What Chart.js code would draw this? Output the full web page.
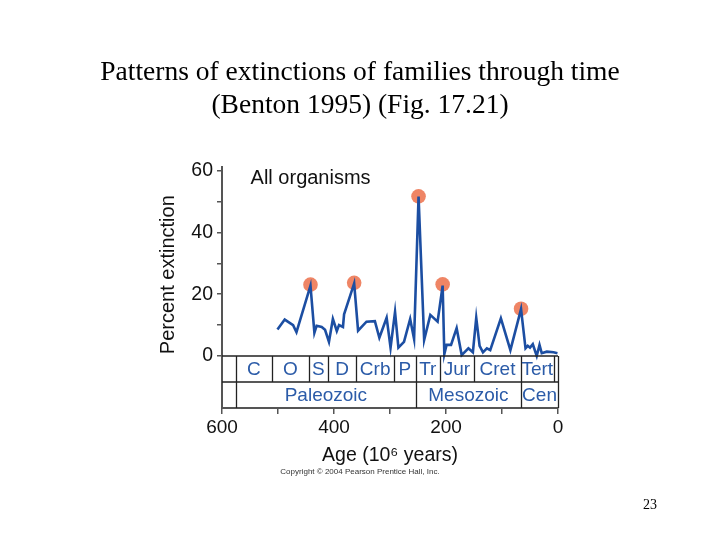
<!DOCTYPE html>
<html>
<head>
<meta charset="utf-8">
<title>Patterns of extinctions of families through time</title>
<script src="https://cdn.jsdelivr.net/npm/chart.js@4.4.1/dist/chart.umd.min.js"></script>
<style>
  html, body { margin: 0; padding: 0; background: #fff; }
  #wrap { position: relative; width: 720px; height: 540px; overflow: hidden; }
  #chart { position: absolute; left: 0; top: 0; }
  .slideTitle {
    position: absolute; left: 0; top: 54px; width: 720px;
    text-align: center; font-family: "Liberation Serif", "Times New Roman", serif;
    font-size: 27.5px; line-height: 33px; color: #000;
  }
  .copyright {
    position: absolute; left: 0; top: 467px; width: 720px; text-align: center;
    font-family: "Liberation Sans", Arial, sans-serif; font-size: 8px; color: #333;
  }
  .pageNum {
    position: absolute; left: 643px; top: 497px;
    font-family: "Liberation Serif", "Times New Roman", serif; font-size: 14px; color: #000;
  }
</style>
</head>
<body>
<div id="wrap">
  <canvas id="chart" width="720" height="540"></canvas>
  <div class="slideTitle">Patterns of extinctions of families through time<br>(Benton 1995) (Fig. 17.21)</div>
  <div class="copyright">Copyright © 2004 Pearson Prentice Hall, Inc.</div>
  <div class="pageNum">23</div>
</div>
<script>
// age in millions of years ago, percent of families going extinct
const ages = [501, 488, 473, 467, 442, 435, 431, 422, 416, 409,
              402, 395, 391, 384, 382, 364, 357, 342, 327, 319,
              306, 299, 291, 285, 275, 264, 257, 249, 239, 228,
              215, 206, 203, 199, 191, 181, 172, 160, 152, 146,
              140, 134, 127, 121, 102, 85, 66, 58, 54, 50,
              45, 38, 33, 29, 20, 8, 1];
const extinction = [8.6, 11.8, 10.0, 7.7, 22.8, 7.5, 9.8, 9.4, 8.5, 4.6,
                    12.0, 8.1, 10.0, 9.4, 13.5, 23.5, 8.2, 11.1, 11.3, 5.9,
                    12.4, 2.7, 14.3, 2.7, 4.6, 12.0, 5.5, 51.6, 5.2, 13.3,
                    11.1, 22.8, 0.6, 3.6, 3.6, 9.0, 0.3, 2.5, 1.2, 12.4,
                    3.3, 1.2, 2.5, 1.9, 12.2, 1.9, 15.2, 2.5, 3.3, 2.7,
                    3.8, 0, 3.6, 0.9, 1.4, 1.2, 0.9];

// the big five mass extinctions (the orange dots)
const massAges = [442, 364, 249, 206, 66];
const massValues = [23.1, 23.7, 51.7, 23.2, 15.3];

// geologic time table under the plot
const periodNames = ["C", "O", "S", "D", "Crb", "P", "Tr", "Jur", "Cret", "Tert"];
const periodBounds = [575, 511, 445, 411, 360, 293, 254, 211, 150, 66, 8, 0];
const eraNames = ["Paleozoic", "Mesozoic", "Cen"];
const eraBounds = [575, 254, 66, 0];

const xTicks = [600, 500, 400, 300, 200, 100, 0];
const yTicks = [0, 10, 20, 30, 40, 50, 60];
const panelLabel = "All organisms";

const FONT = '"Liberation Sans", Arial, sans-serif';
Chart.defaults.font.family = FONT;
Chart.defaults.color = "#111";

const tablePlugin = {
  id: "periodTable",
  afterDatasetsDraw(chart) {
    const ctx = chart.ctx;
    const x = chart.scales.x, y = chart.scales.y;
    const top = y.getPixelForValue(0);
    const bot = y.getPixelForValue(y.min);
    const mid = (top + bot) / 2;
    const left = x.getPixelForValue(600), right = x.getPixelForValue(0);

    ctx.save();
    ctx.strokeStyle = "#222";
    ctx.lineWidth = 1.3;
    ctx.beginPath();
    ctx.moveTo(left, top); ctx.lineTo(right, top);
    ctx.moveTo(left, mid); ctx.lineTo(right, mid);
    periodBounds.forEach((a) => {
      const px = Math.round(x.getPixelForValue(a)) + 0.5;
      ctx.moveTo(px, top); ctx.lineTo(px, mid);
    });
    eraBounds.forEach((a) => {
      const px = Math.round(x.getPixelForValue(a)) + 0.5;
      ctx.moveTo(px, mid); ctx.lineTo(px, bot);
    });
    ctx.stroke();

    ctx.fillStyle = "#2b5ba8";
    ctx.font = "19px " + FONT;
    ctx.textAlign = "center";
    ctx.textBaseline = "middle";
    periodNames.forEach((n, i) => {
      const cx = (x.getPixelForValue(periodBounds[i]) + x.getPixelForValue(periodBounds[i + 1])) / 2;
      ctx.fillText(n, cx, (top + mid) / 2 + 1);
    });
    eraNames.forEach((n, i) => {
      const cx = (x.getPixelForValue(eraBounds[i]) + x.getPixelForValue(eraBounds[i + 1])) / 2;
      ctx.fillText(n, cx, (mid + bot) / 2 + 1);
    });

    ctx.fillStyle = "#111";
    ctx.font = "20px " + FONT;
    ctx.textAlign = "left";
    ctx.fillText(panelLabel, x.getPixelForValue(549), y.getPixelForValue(57.6));
    ctx.restore();
  }
};

const lineData = ages.map((a, i) => ({ x: a, y: extinction[i] }));
const dotData = massAges.map((a, i) => ({ x: a, y: massValues[i] }));

new Chart(document.getElementById("chart").getContext("2d"), {
  type: "line",
  data: {
    datasets: [
      {
        label: "All organisms",
        data: lineData,
        borderColor: "#1c4ea2",
        borderWidth: 2.6,
        pointRadius: 0,
        tension: 0,
        order: 1,
      },
      {
        label: "Mass extinctions",
        type: "scatter",
        data: dotData,
        showLine: false,
        pointRadius: 7.3,
        pointBackgroundColor: "#ef8565",
        pointBorderWidth: 0,
        order: 2,
      },
    ],
  },
  options: {
    responsive: false,
    animation: false,
    layout: { padding: { left: 152.6, right: 162, top: 167, bottom: 68.6 } },
    plugins: { legend: { display: false }, tooltip: { enabled: false } },
    scales: {
      x: {
        type: "linear",
        min: 0, max: 600, reverse: true,
        afterBuildTicks: (s) => { s.ticks = xTicks.map((v) => ({ value: v })); },
        afterFit: (s) => { s.height = 63.4; },
        ticks: {
          callback: (v) => (v % 200 === 0 ? v : ""),
          font: { size: 19 }, color: "#111", padding: 2, maxRotation: 0, autoSkip: false,
        },
        grid: { drawOnChartArea: false, tickLength: 6, color: "#555", lineWidth: 1.5 },
        border: { color: "#555", width: 2 },
        title: { display: true, text: "Age (10\u2076 years)", font: { size: 19.5 }, color: "#111", padding: 4 },
      },
      y: {
        min: -16.84, max: 61.2,
        afterBuildTicks: (s) => { s.ticks = yTicks.map((v) => ({ value: v })); },
        afterFit: (s) => { s.width = 69.4; },
        ticks: {
          callback: (v) => (v % 20 === 0 ? v : ""),
          font: { size: 19.5 }, color: "#111", padding: 4,
        },
        grid: { drawOnChartArea: false, tickLength: 5, color: "#555", lineWidth: 1.5 },
        border: { color: "#555", width: 2 },
        // leading em space nudges the centred title up to where the original sits
        title: { display: true, text: "\u2003 Percent extinction", font: { size: 20 }, color: "#111", padding: 4 },
      },
    },
  },
  plugins: [tablePlugin],
});
</script>
</body>
</html>
